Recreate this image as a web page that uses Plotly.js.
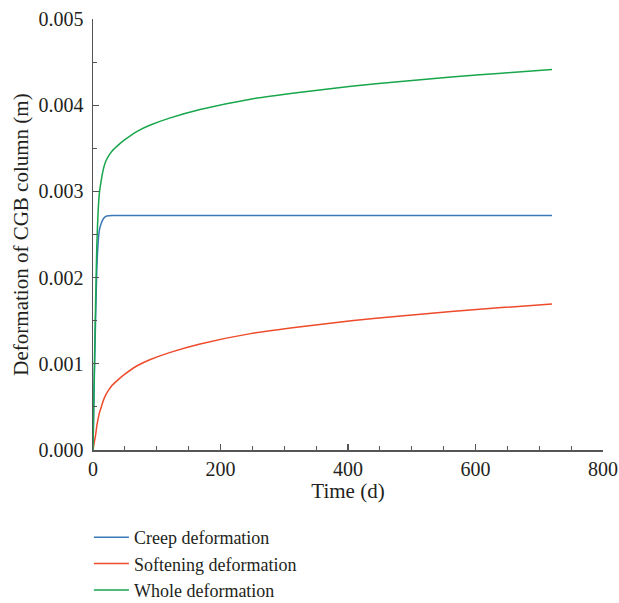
<!DOCTYPE html>
<html>
<head>
<meta charset="utf-8">
<script src="https://cdn.plot.ly/plotly-3.0.1.min.js"></script>
<style>html,body{margin:0;padding:0;background:#fff}#chart{width:619px;height:603px}</style>
</head>
<body>
<div id="chart"></div>
<script>
var time = [0, 2, 4, 6, 8, 10, 13, 16, 20, 25, 30, 40, 50, 70, 90, 120, 168, 247, 326, 405, 483, 562, 641, 720];
var creep = [0, 0.0008, 0.0015, 0.0021, 0.0024, 0.00255, 0.00263, 0.00268, 0.00271, 0.002718, 0.00272, 0.00272, 0.00272, 0.00272, 0.00272, 0.00272, 0.00272, 0.00272, 0.00272, 0.00272, 0.00272, 0.00272, 0.00272, 0.00272];
var softening = [0, 0.00009, 0.00017, 0.00028, 0.00036, 0.00043, 0.0005, 0.00057, 0.00064, 0.0007, 0.00075, 0.00082, 0.00088, 0.00098, 0.00105, 0.00113, 0.00123, 0.00135, 0.00143, 0.0015, 0.001555, 0.001607, 0.001652, 0.001694];
var whole = [0, 0.00089, 0.00167, 0.00238, 0.00276, 0.00298, 0.00313, 0.00325, 0.00335, 0.003418, 0.00347, 0.00354, 0.0036, 0.0037, 0.00377, 0.00385, 0.00395, 0.00407, 0.00415, 0.00422, 0.004275, 0.004327, 0.004372, 0.004414];
var seriesNames = ["Creep deformation", "Softening deformation", "Whole deformation"];
var colors = ["#3b78b8", "#ee4b2b", "#17a64c"];

var fam = "Liberation Serif, DejaVu Serif, serif";
var tickFont = {family: fam, size: 20, color: "#231f20"};
var titleFont = {family: fam, size: 21, color: "#231f20"};
var legendFont = {family: fam, size: 18, color: "#231f20"};

var traces = [creep, softening, whole].map(function (ys, i) {
  return {x: time, y: ys, type: "scatter", mode: "lines", name: seriesNames[i],
    line: {color: colors[i], width: 1.5, shape: "spline", smoothing: 0.5}};
});

var layout = {
  width: 619, height: 603,
  margin: {l: 93, r: 16, t: 19, b: 153, autoexpand: false},
  paper_bgcolor: "#fff", plot_bgcolor: "#fff",
  font: tickFont,
  showlegend: true,
  legend: {x: -0.008, xanchor: "left", y: -0.16, yanchor: "top", orientation: "v",
    font: legendFont, bgcolor: "rgba(0,0,0,0)", tracegroupgap: 0, itemwidth: 35},
  xaxis: {
    range: [0, 800], dtick: 200, tick0: 0, showgrid: false, zeroline: false,
    showline: true, linecolor: "#555", linewidth: 1.5,
    ticks: "inside", ticklen: 6, tickcolor: "#555", tickwidth: 1.2,
    minor: {dtick: 50, ticks: "inside", ticklen: 4, tickcolor: "#555", tickwidth: 1, showgrid: false},
    tickfont: tickFont,
    title: {text: "Time (d)", font: titleFont, standoff: 4}
  },
  yaxis: {
    range: [0, 0.005], dtick: 0.001, tick0: 0, tickformat: ".3f", showgrid: false, zeroline: false,
    showline: true, linecolor: "#555", linewidth: 1.5,
    ticks: "inside", ticklen: 6, tickcolor: "#555", tickwidth: 1.2,
    minor: {dtick: 0.0005, ticks: "inside", ticklen: 4, tickcolor: "#555", tickwidth: 1, showgrid: false},
    tickfont: tickFont, ticklabelstandoff: 4,
    title: {text: "Deformation of CGB column (m)", font: titleFont, standoff: 4}
  }
};

Plotly.newPlot("chart", traces, layout, {displayModeBar: false, staticPlot: true});
</script>
</body>
</html>
